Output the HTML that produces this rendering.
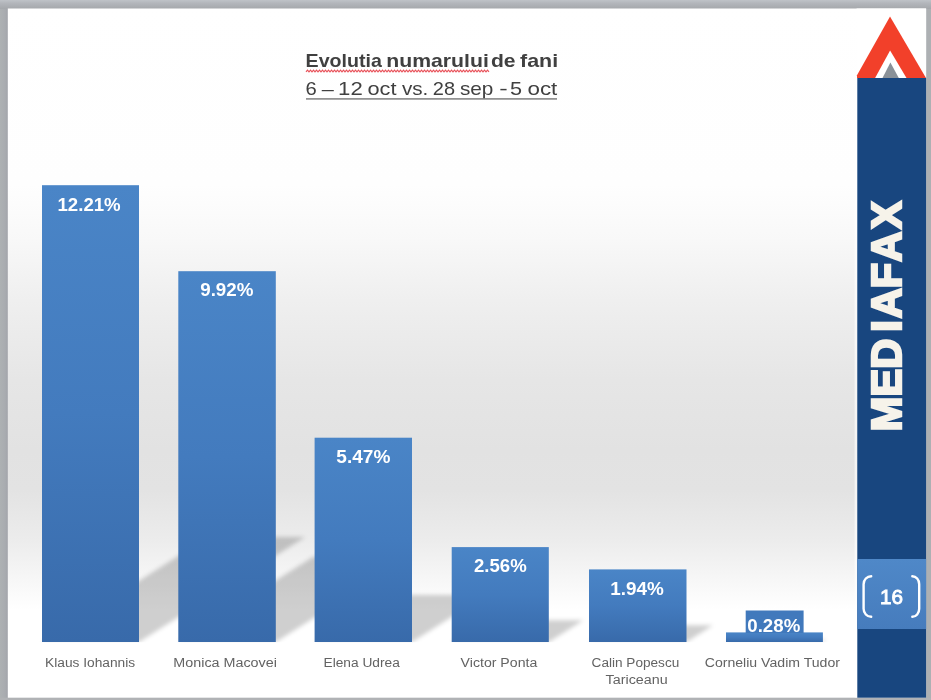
<!DOCTYPE html>
<html lang="ro">
<head>
<meta charset="utf-8">
<title>Evolutia numarului de fani</title>
<style>
html,body{margin:0;padding:0;background:#a9acb0;}
body{width:931px;height:700px;overflow:hidden;position:relative;font-family:"Liberation Sans",sans-serif;}
svg{display:block;position:absolute;left:0;top:0;}
text{font-family:"Liberation Sans",sans-serif;}
.val{font-weight:bold;font-size:17.6px;fill:#ffffff;}
.cat{font-size:12.3px;fill:#636363;}
.ttl{font-size:18.6px;fill:#404040;}
.b{font-weight:bold;}
</style>
</head>
<body>
<svg width="931" height="700" viewBox="0 0 931 700">
<defs>
<linearGradient id="bg" gradientUnits="userSpaceOnUse" x1="0" y1="0" x2="0" y2="700">
<stop offset="0.0000" stop-color="#ffffff"/>
<stop offset="0.2643" stop-color="#fefefe"/>
<stop offset="0.3429" stop-color="#f8f8f8"/>
<stop offset="0.4286" stop-color="#efefef"/>
<stop offset="0.5429" stop-color="#e6e6e6"/>
<stop offset="0.6429" stop-color="#e2e2e2"/>
<stop offset="0.7000" stop-color="#e3e3e3"/>
<stop offset="0.7714" stop-color="#ececec"/>
<stop offset="0.8286" stop-color="#f7f7f7"/>
<stop offset="0.8714" stop-color="#ffffff"/>
<stop offset="1.0000" stop-color="#ffffff"/>
</linearGradient>
<linearGradient id="chromeTop" gradientUnits="userSpaceOnUse" x1="0" y1="0" x2="0" y2="9">
<stop offset="0" stop-color="#bfc3c8"/>
<stop offset="0.35" stop-color="#b3b6bb"/>
<stop offset="1" stop-color="#a4a7ab"/>
</linearGradient>
<linearGradient id="chromeLeft" gradientUnits="userSpaceOnUse" x1="0" y1="0" x2="8" y2="0">
<stop offset="0" stop-color="#adb1b3"/>
<stop offset="0.6" stop-color="#a9acb0"/>
<stop offset="1" stop-color="#a2a4aa"/>
</linearGradient>
<linearGradient id="bar" x1="0" y1="0" x2="0" y2="1">
<stop offset="0" stop-color="#4a85c7"/>
<stop offset="0.5" stop-color="#437bbe"/>
<stop offset="1" stop-color="#386aaa"/>
</linearGradient>
<linearGradient id="num" x1="0" y1="0" x2="0" y2="1">
<stop offset="0" stop-color="#4f88c8"/>
<stop offset="1" stop-color="#467cbd"/>
</linearGradient>
<filter id="blur" x="-20%" y="-20%" width="140%" height="140%"><feGaussianBlur stdDeviation="2.2"/></filter>
<clipPath id="slide"><rect x="8" y="8.5" width="849" height="633.8"/></clipPath>
</defs>
<rect x="0" y="0" width="931" height="700" fill="#a9acb0"/>
<rect x="0" y="0" width="8" height="700" fill="url(#chromeLeft)"/>
<rect x="0" y="0" width="931" height="9" fill="url(#chromeTop)"/>
<rect x="0" y="697.6" width="931" height="2.4" fill="#b0b2b5"/>
<rect x="926" y="9" width="5" height="689" fill="#adb0b3"/>
<rect x="7.8" y="8.5" width="918.3" height="689.2" fill="url(#bg)"/>

<g clip-path="url(#slide)"><g filter="url(#blur)" fill="#000000" fill-opacity="0.19">
<polygon points="42.0,642.0 139.0,642.0 305.3,536.9 208.3,536.9"/>
<polygon points="178.3,642.0 275.8,642.0 410.8,556.7 313.3,556.7"/>
<polygon points="314.6,642.0 412.0,642.0 486.4,595.0 389.0,595.0"/>
<polygon points="451.7,642.0 548.8,642.0 583.3,620.2 486.2,620.2"/>
<polygon points="589.0,642.0 686.5,642.0 712.9,625.3 615.4,625.3"/>
<polygon points="726.0,642.0 822.9,642.0 826.4,639.8 729.5,639.8"/>
</g></g>
<rect x="42.0" y="185.2" width="97.0" height="456.8" fill="url(#bar)"/>
<rect x="178.3" y="271.2" width="97.5" height="370.8" fill="url(#bar)"/>
<rect x="314.6" y="437.7" width="97.4" height="204.3" fill="url(#bar)"/>
<rect x="451.7" y="547.1" width="97.1" height="94.9" fill="url(#bar)"/>
<rect x="589.0" y="569.4" width="97.5" height="72.6" fill="url(#bar)"/>
<rect x="726.0" y="632.4" width="96.9" height="9.6" fill="url(#bar)"/>
<rect x="745.7" y="610.5" width="57.9" height="22.5" fill="#4179bc"/>
<text id="v1" class="val" x="57.47" y="210.6" textLength="63.22" lengthAdjust="spacingAndGlyphs">12.21%</text>
<text id="v2" class="val" x="200.22" y="295.9" textLength="53.22" lengthAdjust="spacingAndGlyphs">9.92%</text>
<text id="v3" class="val" x="336.36" y="462.9" textLength="54.07" lengthAdjust="spacingAndGlyphs">5.47%</text>
<text id="v4" class="val" x="473.98" y="571.5" textLength="52.68" lengthAdjust="spacingAndGlyphs">2.56%</text>
<text id="v5" class="val" x="610.19" y="595.0" textLength="53.54" lengthAdjust="spacingAndGlyphs">1.94%</text>
<text id="v6" class="val" x="747.30" y="631.6" textLength="52.93" lengthAdjust="spacingAndGlyphs">0.28%</text>
<text id="c1" class="cat" x="45.02" y="667.0" textLength="90.16" lengthAdjust="spacingAndGlyphs">Klaus Iohannis</text>
<text id="c2" class="cat" x="173.33" y="667.0" textLength="103.52" lengthAdjust="spacingAndGlyphs">Monica Macovei</text>
<text id="c3" class="cat" x="323.53" y="667.0" textLength="76.30" lengthAdjust="spacingAndGlyphs">Elena Udrea</text>
<text id="c4" class="cat" x="460.63" y="667.0" textLength="76.63" lengthAdjust="spacingAndGlyphs">Victor Ponta</text>
<text class="cat"><tspan id="c5" x="591.63" y="667.0" textLength="87.64" lengthAdjust="spacingAndGlyphs">Calin Popescu</tspan> <tspan id="c6" x="605.58" y="684.3" textLength="62.04" lengthAdjust="spacingAndGlyphs">Tariceanu</tspan></text>
<text id="c7" class="cat" x="704.74" y="667.0" textLength="135.22" lengthAdjust="spacingAndGlyphs">Corneliu Vadim Tudor</text>
<text class="ttl b"><tspan id="t1a" x="305.58" y="67.4" textLength="76.27" lengthAdjust="spacingAndGlyphs">Evolutia</tspan> <tspan id="t1b" x="386.34" y="67.4" textLength="102.48" lengthAdjust="spacingAndGlyphs">numarului</tspan> <tspan id="t1c" x="491.00" y="67.4" textLength="24.60" lengthAdjust="spacingAndGlyphs">de</tspan> <tspan id="t1d" x="520.04" y="67.4" textLength="38.07" lengthAdjust="spacingAndGlyphs">fani</tspan></text>
<text class="ttl"><tspan id="t2a" x="305.63" y="95.2" textLength="11.25" lengthAdjust="spacingAndGlyphs">6</tspan> <tspan id="t2b" x="321.77" y="95.2" textLength="12.05" lengthAdjust="spacingAndGlyphs">–</tspan> <tspan id="t2c" x="338.13" y="95.2" textLength="24.64" lengthAdjust="spacingAndGlyphs">12</tspan> <tspan id="t2d" x="367.47" y="95.2" textLength="29.02" lengthAdjust="spacingAndGlyphs">oct</tspan> <tspan id="t2e" x="401.93" y="95.2" textLength="26.33" lengthAdjust="spacingAndGlyphs">vs.</tspan> <tspan id="t2f" x="432.85" y="95.2" textLength="22.25" lengthAdjust="spacingAndGlyphs">28</tspan> <tspan id="t2g" x="459.93" y="95.2" textLength="33.46" lengthAdjust="spacingAndGlyphs">sep</tspan> <tspan id="t2h" x="499.39" y="95.2" textLength="8.46" lengthAdjust="spacingAndGlyphs">-</tspan> <tspan id="t2i" x="510.06" y="95.2" textLength="12.04" lengthAdjust="spacingAndGlyphs">5</tspan> <tspan id="t2j" x="527.45" y="95.2" textLength="29.86" lengthAdjust="spacingAndGlyphs">oct</tspan></text>
<rect x="306" y="98.1" width="251" height="1.6" fill="#888888"/>
<polyline fill="none" stroke="#e85058" stroke-width="1.1" points="306.0,71.9 307.5,70.1 309.0,71.9 310.5,70.1 312.0,71.9 313.5,70.1 315.0,71.9 316.5,70.1 318.0,71.9 319.5,70.1 321.0,71.9 322.5,70.1 324.0,71.9 325.5,70.1 327.0,71.9 328.5,70.1 330.0,71.9 331.5,70.1 333.0,71.9 334.5,70.1 336.0,71.9 337.5,70.1 339.0,71.9 340.5,70.1 342.0,71.9 343.5,70.1 345.0,71.9 346.5,70.1 348.0,71.9 349.5,70.1 351.0,71.9 352.5,70.1 354.0,71.9 355.5,70.1 357.0,71.9 358.5,70.1 360.0,71.9 361.5,70.1 363.0,71.9 364.5,70.1 366.0,71.9 367.5,70.1 369.0,71.9 370.5,70.1 372.0,71.9 373.5,70.1 375.0,71.9 376.5,70.1 378.0,71.9 379.5,70.1 381.0,71.9 382.5,70.1 384.0,71.9 385.5,70.1 387.0,71.9 388.5,70.1 390.0,71.9 391.5,70.1 393.0,71.9 394.5,70.1 396.0,71.9 397.5,70.1 399.0,71.9 400.5,70.1 402.0,71.9 403.5,70.1 405.0,71.9 406.5,70.1 408.0,71.9 409.5,70.1 411.0,71.9 412.5,70.1 414.0,71.9 415.5,70.1 417.0,71.9 418.5,70.1 420.0,71.9 421.5,70.1 423.0,71.9 424.5,70.1 426.0,71.9 427.5,70.1 429.0,71.9 430.5,70.1 432.0,71.9 433.5,70.1 435.0,71.9 436.5,70.1 438.0,71.9 439.5,70.1 441.0,71.9 442.5,70.1 444.0,71.9 445.5,70.1 447.0,71.9 448.5,70.1 450.0,71.9 451.5,70.1 453.0,71.9 454.5,70.1 456.0,71.9 457.5,70.1 459.0,71.9 460.5,70.1 462.0,71.9 463.5,70.1 465.0,71.9 466.5,70.1 468.0,71.9 469.5,70.1 471.0,71.9 472.5,70.1 474.0,71.9 475.5,70.1 477.0,71.9 478.5,70.1 480.0,71.9 481.5,70.1 483.0,71.9 484.5,70.1 486.0,71.9 487.5,70.1 489.0,71.9"/>
<rect x="854.6" y="78" width="2.4" height="619.6" fill="#ffffff" fill-opacity="0.6"/>
<rect x="856.6" y="8.5" width="69.5" height="70" fill="#ffffff"/>
<rect x="857.3" y="78" width="68.8" height="619.7" fill="#18467f"/>
<rect x="857.3" y="559" width="68.8" height="70" fill="url(#num)"/>
<polygon points="890,16.6 926,78 857,78 857,75.2" fill="#f2402a"/>
<polygon points="890.1,50.6 906.5,78 875.1,78" fill="#ffffff"/>
<polygon points="890.4,62.6 898.8,78 882.5,78" fill="#8a9198"/>
<text transform="translate(901.2,428.8) rotate(-90)" x="-2.48 32.39 60.11 97.07 110.60 140.52 167.15 199.88" y="0" font-size="41.6" font-weight="bold" fill="#f6f3ea" stroke="#f6f3ea" stroke-width="2.4" stroke-linejoin="miter">MEDIAFAX</text>
<path d="M871.2,576.2 a7.6,8 0 0 0 -7.6,8 v24.6 a7.6,8 0 0 0 7.6,8" fill="none" stroke="#ffffff" stroke-width="2.4" stroke-linecap="round"/>
<path d="M912.3,576.2 a6.9,8 0 0 1 6.9,8 v24.6 a6.9,8 0 0 1 -6.9,8" fill="none" stroke="#ffffff" stroke-width="2.4" stroke-linecap="round"/>
<text x="880.1" y="603.6" font-size="20.2" fill="#ffffff" stroke="#ffffff" stroke-width="0.9" textLength="23.0" lengthAdjust="spacingAndGlyphs">16</text>

</svg>
</body>
</html>
